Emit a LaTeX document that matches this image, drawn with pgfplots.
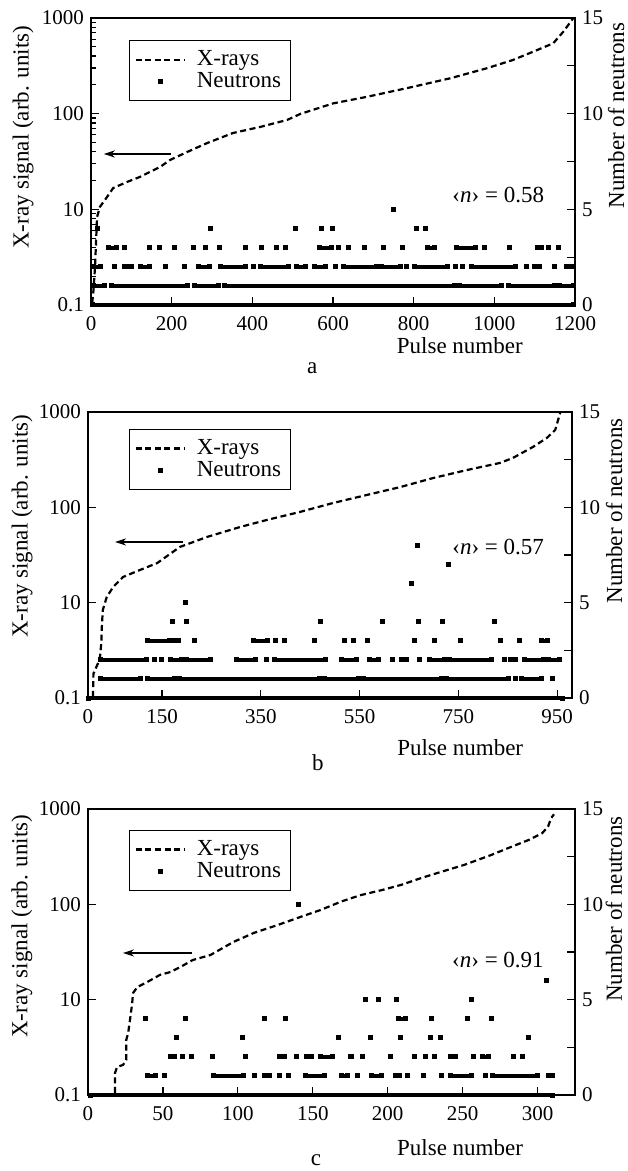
\documentclass[border=0pt]{standalone}
\usepackage{fontspec}
\setmainfont{Liberation Serif}
\usepackage{pgfplots}
\pgfplotsset{compat=1.18}
\usetikzlibrary{arrows.meta}

\newcommand{\lblfont}{\fontsize{11.5}{13}\selectfont}
\newcommand{\tckfont}{\fontsize{10.5}{12}\selectfont}

\pgfplotsset{
  mybase/.style={
    scale only axis, clip=false, anchor=south west,
    tick align=inside, major tick length=4pt,
    axis line style={line width=0.9pt},
    every tick/.append style={black, line width=0.6pt},
    tick label style={font=\tckfont},
    xticklabel style={yshift=-2pt},
    label style={font=\lblfont},
    /pgf/number format/assume math mode=true,
    /pgf/number format/1000 sep={},
  },
  myxray/.style={
    mybase,
    ymin=1, ymax=1000,
    ytick={1,10,100,1000}, yticklabels={0.1,10,100,1000},
    ytick pos=left, xtick pos=bottom,
    minor tick length=2.4pt,
    xlabel={Pulse number},
    ylabel={X-ray signal (arb. units)},
    xlabel style={anchor=center},
    ylabel style={anchor=center},
    legend style={anchor=north west, draw=black, line width=0.6pt,
      inner xsep=2.5pt, inner ysep=3pt, font=\lblfont, row sep=-2pt,
      /tikz/every odd column/.append style={column sep=3.5pt}},
    legend cell align=left,
  },
  mynax/.style={
    mybase,
    hide x axis, axis y line*=right,
    ymin=0, ymax=15, ytick={0,5,10,15}, minor ytick={2.5,7.5,12.5},
    minor tick length=4pt,
    ylabel={Number of neutrons},
    ylabel style={anchor=center},
  },
  myxcurve/.style={black, line width=1.1pt, dash pattern=on 3pt off 1.8pt,
    legend image code/.code={\draw[black, line width=1.1pt, dash pattern=on 3pt off 1.8pt] (0pt,0pt) -- (24.5pt,0pt);}},
  mynleg/.style={legend image code/.code={\fill[black] (11.25pt,-1pt) rectangle (13.25pt,1pt);}},
  myneut/.style={black, line width=2pt, unbounded coords=jump,
    mark=square*, mark size=1pt, mark options={solid, line width=0pt}},
}

\begin{document}
\begin{tikzpicture}
\path[use as bounding box] (0,0) rectangle (313.5pt,-585.5pt);

% ---------------- panel a ----------------
\begin{axis}[ymode=log, myxray, at={(45.5pt,-152.5pt)}, width=242pt, height=143.5pt,
  xmin=0, xmax=1200, xtick={0,200,...,1200},
  ylabel style={at={(axis description cs:-0.140,0.584)}},
  xlabel style={at={(axis description cs:0.762,-0.143)}},
  legend style={at={(axis description cs:0.0785,0.923)}}]
\addplot[myxcurve] table[row sep=\\] {x y\\
3 1.05\\6 1.4\\10 2.5\\15 8.3\\22 10.6\\40 13.5\\55 16.7\\89 19.3\\121 21.8\\146 24.6\\171 27.7\\196 32.8\\238 39.7\\288 49.3\\352 62.8\\419 72.6\\486 85.9\\518 99\\600 128\\684 150\\791 188\\890 234\\981 298\\1046 364\\1096 444\\1146 544\\1171 719\\1196 1000\\};
\addlegendentry{X-rays}
\addlegendimage{mynleg}
\addlegendentry{Neutrons}
\draw[-{Stealth[length=5.5pt,width=3.6pt]}, line width=0.55pt] (198,37.9) -- (32,37.9);
\node[font=\lblfont] at (axis description cs:0.457,-0.22) {a};
\end{axis}
\begin{axis}[mynax, at={(45.5pt,-152.5pt)}, width=242pt, height=143.5pt,
  xmin=0, xmax=1200,
  ylabel style={at={(axis description cs:1.085,0.66)}}]
\addplot[myneut] table[row sep=\\] {x y\\
3 0\\1197 0\\nan nan\\
7 1\\33 1\\nan nan\\51 1\\239 1\\nan nan\\257 1\\316 1\\nan nan\\331 1\\901 1\\nan nan\\914 1\\1017 1\\nan nan\\1035 1\\1149 1\\nan nan\\1162 1\\1196 1\\nan nan\\
7 2\\23 2\\nan nan\\59 2\\nan nan\\82 2\\nan nan\\96 2\\100 2\\nan nan\\123 2\\145 2\\nan nan\\185 2\\nan nan\\233 2\\nan nan\\267 2\\293 2\\nan nan\\322 2\\383 2\\nan nan\\404 2\\nan nan\\421 2\\489 2\\nan nan\\510 2\\531 2\\nan nan\\555 2\\581 2\\nan nan\\605 2\\nan nan\\626 2\\707 2\\nan nan\\721 2\\767 2\\nan nan\\783 2\\nan nan\\802 2\\883 2\\nan nan\\904 2\\nan nan\\920 2\\nan nan\\944 2\\1052 2\\nan nan\\1080 2\\nan nan\\1100 2\\1111 2\\nan nan\\1149 2\\nan nan\\1179 2\\1191 2\\nan nan\\
44 3\\63 3\\nan nan\\83 3\\nan nan\\145 3\\nan nan\\170 3\\nan nan\\207 3\\nan nan\\255 3\\nan nan\\285 3\\nan nan\\319 3\\nan nan\\384 3\\nan nan\\423 3\\nan nan\\460 3\\nan nan\\483 3\\nan nan\\567 3\\596 3\\nan nan\\614 3\\nan nan\\638 3\\nan nan\\678 3\\nan nan\\726 3\\nan nan\\772 3\\nan nan\\834 3\\851 3\\nan nan\\907 3\\953 3\\nan nan\\975 3\\nan nan\\1037 3\\nan nan\\1107 3\\1116 3\\nan nan\\1134 3\\nan nan\\1158 3\\nan nan\\
15 4\\nan nan\\296 4\\nan nan\\507 4\\nan nan\\571 4\\nan nan\\599 4\\nan nan\\806 4\\nan nan\\829 4\\nan nan\\
750 5\\};
\node[anchor=west, inner sep=0pt, font=\lblfont] at (axis description cs:0.746,0.383) {‹\textit{n}› = 0.58};
\end{axis}

% ---------------- panel b ----------------
\begin{axis}[ymode=log, myxray, at={(44pt,-349pt)}, width=242pt, height=143pt,
  yminorticks=false,
  xmin=0, xmax=980, xtick={0,150,350,550,750,950},
  ylabel style={at={(axis description cs:-0.136,0.60)}},
  xlabel style={at={(axis description cs:0.769,-0.175)}},
  legend style={at={(axis description cs:0.0847,0.941)}}]
\addplot[myxcurve] table[row sep=\\] {x y\\
10 1.03\\11 1.8\\20 2.3\\24 2.6\\27 3.8\\28 5.6\\30 8.4\\38 11.5\\51 14.6\\71 18.6\\105 22\\140 26\\186 38.4\\241 48.9\\308 62.2\\362 73.7\\429 89.4\\496 111\\565 135\\632 163\\699 203\\767 246\\834 292\\860 329\\901 430\\929 534\\946 648\\956 977\\};
\addlegendentry{X-rays}
\addlegendimage{mynleg}
\addlegendentry{Neutrons}
\draw[-{Stealth[length=5.5pt,width=3.6pt]}, line width=0.55pt] (192,43.3) -- (55,43.3);
\node[font=\lblfont] at (axis description cs:0.475,-0.227) {b};
\end{axis}
\begin{axis}[mynax, at={(44pt,-349pt)}, width=242pt, height=143pt,
  xmin=0, xmax=980,
  ylabel style={at={(axis description cs:1.087,0.654)}}]
\addplot[myneut] table[row sep=\\] {x y\\
2 0\\960 0\\nan nan\\
26 1\\106 1\\nan nan\\121 1\\175 1\\nan nan\\186 1\\468 1\\nan nan\\479 1\\547 1\\nan nan\\558 1\\715 1\\nan nan\\726 1\\851 1\\nan nan\\865 1\\nan nan\\878 1\\918 1\\nan nan\\940 1\\nan nan\\
26 2\\118 2\\nan nan\\134 2\\nan nan\\149 2\\nan nan\\167 2\\189 2\\nan nan\\200 2\\248 2\\nan nan\\301 2\\339 2\\nan nan\\361 2\\nan nan\\378 2\\480 2\\nan nan\\514 2\\543 2\\nan nan\\570 2\\588 2\\nan nan\\617 2\\nan nan\\635 2\\644 2\\nan nan\\671 2\\nan nan\\692 2\\721 2\\nan nan\\732 2\\817 2\\nan nan\\843 2\\nan nan\\856 2\\865 2\\nan nan\\884 2\\922 2\\nan nan\\933 2\\954 2\\nan nan\\
121 3\\165 3\\nan nan\\176 3\\183 3\\nan nan\\216 3\\nan nan\\335 3\\363 3\\nan nan\\380 3\\nan nan\\397 3\\nan nan\\459 3\\nan nan\\519 3\\nan nan\\538 3\\nan nan\\566 3\\nan nan\\661 3\\nan nan\\702 3\\nan nan\\754 3\\nan nan\\835 3\\nan nan\\874 3\\nan nan\\919 3\\930 3\\nan nan\\
172 4\\nan nan\\200 4\\nan nan\\471 4\\nan nan\\596 4\\nan nan\\669 4\\nan nan\\718 4\\nan nan\\824 4\\nan nan\\
198 5\\nan nan\\656 6\\nan nan\\729 7\\nan nan\\668 8\\};
\node[anchor=west, inner sep=0pt, font=\lblfont] at (axis description cs:0.752,0.528) {‹\textit{n}› = 0.57};
\end{axis}

% ---------------- panel c ----------------
\begin{axis}[ymode=log, myxray, at={(44pt,-547.5pt)}, width=243.5pt, height=143pt,
  yminorticks=false,
  xmin=0, xmax=325, xtick={0,50,...,300},
  ylabel style={at={(axis description cs:-0.136,0.59)}},
  xlabel style={at={(axis description cs:0.764,-0.185)}},
  legend style={at={(axis description cs:0.0842,0.927)}}]
\addplot[myxcurve] table[row sep=\\] {x y\\
18 1.05\\18 1.7\\19.4 1.97\\23.4 2.07\\25.5 2.33\\25.5 3.77\\26.8 4.47\\28 6.1\\29.5 9.2\\30 11.7\\33 13.6\\39.5 15.3\\48 18.2\\55 19.5\\61.6 22\\70 26.1\\81.7 29.4\\97 40.3\\110.5 50\\126.6 60.7\\142 74\\155 87\\169 107\\182 125\\196 141\\209 160\\222 188\\236 220\\251 259\\260 292\\269 329\\280 387\\294 473\\303 556\\307 653\\309 800\\311 880\\};
\addlegendentry{X-rays}
\addlegendimage{mynleg}
\addlegendentry{Neutrons}
\draw[-{Stealth[length=5.5pt,width=3.6pt]}, line width=0.55pt] (69.7,30.9) -- (23.4,30.9);
\node[font=\lblfont] at (axis description cs:0.468,-0.227) {c};
\end{axis}
\begin{axis}[mynax, at={(44pt,-547.5pt)}, width=243.5pt, height=143pt,
  xmin=0, xmax=325,
  ylabel style={at={(axis description cs:1.080,0.65)}}]
\addplot[myneut] table[row sep=\\] {x y\\
2 0\\310 0\\nan nan\\
40 1\\45 1\\nan nan\\51 1\\nan nan\\84 1\\104 1\\nan nan\\111 1\\nan nan\\118 1\\121 1\\nan nan\\128 1\\nan nan\\134 1\\nan nan\\145 1\\158 1\\nan nan\\169 1\\173 1\\nan nan\\180 1\\nan nan\\189 1\\196 1\\nan nan\\205 1\\208 1\\nan nan\\213 1\\nan nan\\224 1\\nan nan\\236 1\\nan nan\\242 1\\256 1\\nan nan\\265 1\\nan nan\\270 1\\300 1\\nan nan\\307 1\\310 1\\nan nan\\
55 2\\58 2\\nan nan\\63 2\\nan nan\\69 2\\nan nan\\83 2\\nan nan\\105 2\\nan nan\\128 2\\131 2\\nan nan\\139 2\\nan nan\\146 2\\149 2\\nan nan\\155 2\\163 2\\nan nan\\175 2\\176 2\\nan nan\\183 2\\nan nan\\202 2\\nan nan\\218 2\\nan nan\\225 2\\nan nan\\231 2\\nan nan\\242 2\\245 2\\nan nan\\257 2\\nan nan\\263 2\\267 2\\nan nan\\284 2\\nan nan\\290 2\\nan nan\\
59 3\\nan nan\\103 3\\nan nan\\167.5 3\\nan nan\\188.5 3\\nan nan\\208.6 3\\nan nan\\228.7 3\\nan nan\\235.4 3\\nan nan\\293.7 3\\nan nan\\
38.5 4\\nan nan\\65 4\\nan nan\\118 4\\nan nan\\132 4\\nan nan\\207.4 4\\211.8 4\\nan nan\\229.4 4\\nan nan\\253.5 4\\nan nan\\269 4\\nan nan\\
185.5 5\\nan nan\\194 5\\nan nan\\206 5\\nan nan\\256.2 5\\nan nan\\
306 6\\nan nan\\140.6 10\\};
\node[anchor=west, inner sep=0pt, font=\lblfont] at (axis description cs:0.747,0.472) {‹\textit{n}› = 0.91};
\end{axis}
\end{tikzpicture}
\end{document}
